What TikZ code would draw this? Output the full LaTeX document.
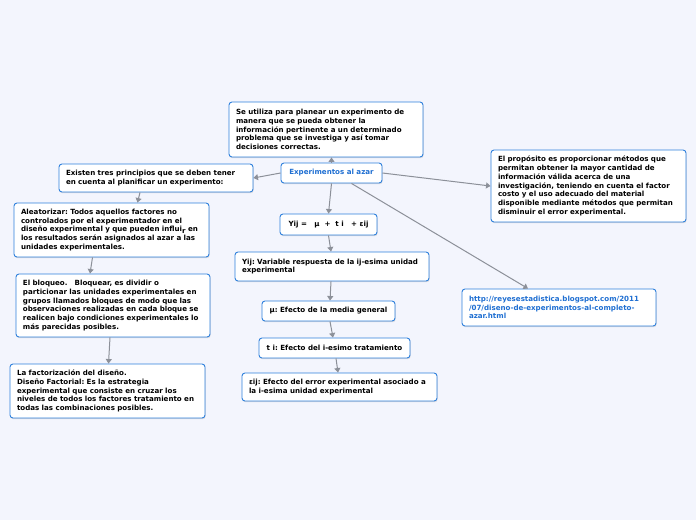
\documentclass[tikz,border=0pt]{standalone}
\usepackage{fontspec}
\setmainfont{DejaVu Sans}
\usepackage{amsmath}
\usetikzlibrary{arrows.meta}
\usetikzlibrary{shadows}
\frenchspacing

\definecolor{bgcol}{HTML}{F3F5FD}
\definecolor{boxline}{HTML}{2F80DC}
\definecolor{conncol}{HTML}{8C9099}
\definecolor{titlecol}{HTML}{1F6FD2}

\tikzset{
  card/.style={draw=boxline, line width=0.9pt, fill=white, rounded corners=3pt,
    align=left, inner sep=0pt, font=\fontsize{7.1}{8.8}\selectfont\bfseries,
    drop shadow={shadow xshift=0.6pt, shadow yshift=-1.2pt, opacity=0.25}},
  conn/.style={draw=conncol, line width=1pt,
    -{Triangle[width=6pt,length=4.5pt]}}
}

\begin{document}
\begin{tikzpicture}[x=1pt,y=-1pt]

  \fill[bgcol] (0,0) rectangle (696,520);
  \useasboundingbox (0,0) rectangle (696,520);

  % centre topic
  \node[card, minimum width=101pt, minimum height=20pt, align=center,
    text=titlecol] (azar) at (331.5,173) {Experimentos al azar};

  \node[card, minimum width=194pt, minimum height=55pt, text width=180pt]
    (uso) at (326,129.5)
    {Se utiliza para planear un experimento de\\
     manera que se pueda obtener la\\
     información pertinente a un determinado\\
     problema que se investiga y así tomar\\
     decisiones correctas.};

  \node[card, minimum width=194pt, minimum height=28pt, text width=180pt]
    (princ) at (156,178)
    {Existen tres principios que se deben tener\\
     en cuenta al planificar un experimento:};

  \node[card, minimum width=195pt, minimum height=72pt, text width=181pt]
    (proposito) at (588.5,186)
    {El propósito es proporcionar métodos que\\
     permitan obtener la mayor cantidad de\\
     información válida acerca de una\\
     investigación, teniendo en cuenta el factor\\
     costo y el uso adecuado del material\\
     disponible mediante métodos que permitan\\
     disminuir el error experimental.};

  \node[card, minimum width=194pt, minimum height=37pt, text width=180pt,
    text=titlecol] (url) at (559,307.5)
    {http://reyesestadistica.blogspot.com/2011\\
     /07/diseno-de-experimentos-al-completo-\\
     azar.html};

  % principios
  \node[card, minimum width=195pt, minimum height=54pt, text width=181pt]
    (aleat) at (111.5,230)
    {Aleatorizar: Todos aquellos factores no\\
     controlados por el experimentador en el\\
     diseño experimental y que pueden influi\raisebox{-1.8pt}{r} en\\
     los resultados serán asignados al azar a las\\
     unidades experimentales.};

  \node[card, minimum width=194pt, minimum height=63pt, text width=180pt]
    (bloqueo) at (113,305.5)
    {El bloqueo.\quad Bloquear, es dividir o\\
     particionar las unidades experimentales en\\
     grupos llamados bloques de modo que las\\
     observaciones realizadas en cada bloque se\\
     realicen bajo condiciones experimentales lo\\
     más parecidas posibles.};

  \node[card, minimum width=195pt, minimum height=54pt, text width=181pt]
    (factor) at (107.5,391)
    {La factorización del diseño.\\
     Diseño Factorial: Es la estrategia\\
     experimental que consiste en cruzar los\\
     niveles de todos los factores tratamiento en\\
     todas las combinaciones posibles.};

  % modelo
  \node[card, minimum width=97pt, minimum height=21pt, align=center]
    (modelo) at (328.5,224.5) {Yij =\ \ \ μ\ \ +\ \ t i\ \ \ + εij};

  \node[card, minimum width=194pt, minimum height=29pt, text width=180pt]
    (yij) at (332,266.5)
    {Yij: Variable respuesta de la ij-esima unidad\\
     experimental};

  \node[card, minimum width=133pt, minimum height=20pt, align=center]
    (media) at (328.5,311) {μ: Efecto de la media general};

  \node[card, minimum width=151pt, minimum height=20pt, align=center]
    (trat) at (334.5,348) {t i: Efecto del i-esimo tratamiento};

  \node[card, minimum width=195pt, minimum height=28pt, text width=181pt]
    (error) at (339.5,387)
    {εij: Efecto del error experimental asociado a\\
     la i-esima unidad experimental};

  % connectors
  \draw[conn] (azar.north) -- (azar.north |- uso.south);
  \draw[conn] (azar.west) -- (princ.east);
  \draw[conn] (azar.east) -- (proposito.west);
  \draw[conn] ([xshift=20pt]azar.south) -- ([xshift=-31pt]url.north);
  \draw[conn] (azar.south) -- (modelo.north);

  \draw[conn] ([xshift=-16pt]princ.south) -- ([xshift=26pt]aleat.north);
  \draw[conn] ([xshift=-19pt]aleat.south) -- ([xshift=-23pt]bloqueo.north);
  \draw[conn] ([xshift=-3pt]bloqueo.south) -- ([xshift=1pt]factor.north);

  \draw[conn] (modelo.south) -- ([xshift=-1pt]yij.north);
  \draw[conn] ([xshift=-1pt]yij.south) -- ([xshift=1.5pt]media.north);
  \draw[conn] ([xshift=1.5pt]media.south) -- ([xshift=-1.5pt]trat.north);
  \draw[conn] ([xshift=1.5pt]trat.south) -- ([xshift=-1.5pt]error.north);

\end{tikzpicture}
\end{document}
